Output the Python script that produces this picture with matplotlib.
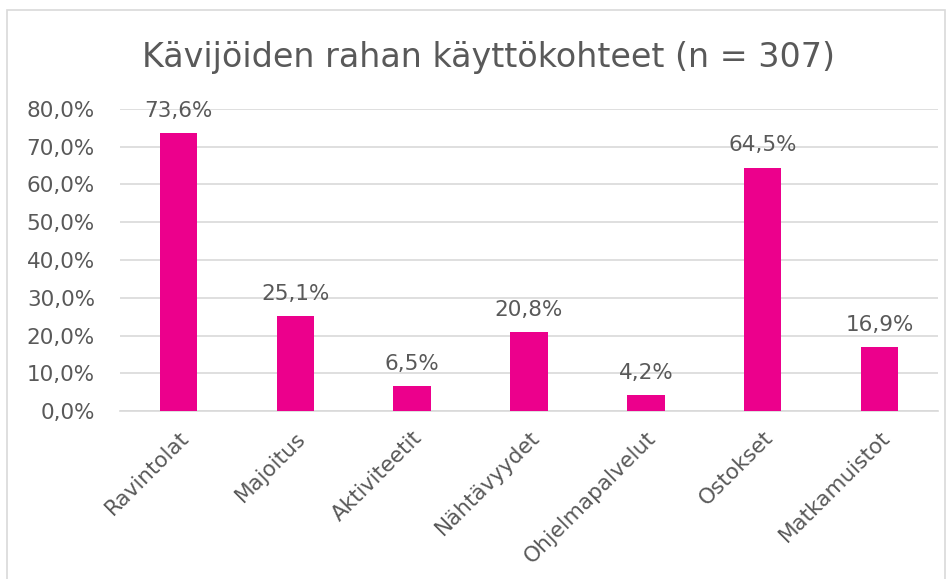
import matplotlib.pyplot as plt
from matplotlib.patches import Rectangle
from matplotlib.ticker import FuncFormatter

# Data
categories = ['Ravintolat', 'Majoitus', 'Aktiviteetit', 'Nähtävyydet',
              'Ohjelmapalvelut', 'Ostokset', 'Matkamuistot']
shares = [73.6, 25.1, 6.5, 20.8, 4.2, 64.5, 16.9]

text_color = '#595959'
grid_color = '#D9D9D9'
bar_color = '#EC008C'

fig = plt.figure(figsize=(9.53, 5.79), dpi=100)
ax = fig.add_axes([120 / 953, 1 - 411 / 579, 818 / 953, 302 / 579])

# light frame round the chart, like the spreadsheet export
fig.patches.append(Rectangle((7 / 953, -0.1), 938 / 953, 1.1 - 10 / 579,
                             transform=fig.transFigure, fill=False,
                             edgecolor=grid_color, linewidth=1.2))

index = range(len(categories))
bars = ax.bar(index, shares, width=0.32, color=bar_color, zorder=3)

for rect, val in zip(bars, shares):
    ax.text(rect.get_x() + rect.get_width() / 2, val + 3.3,
            f'{val:.1f}%'.replace('.', ','), ha='center', va='bottom',
            fontsize=15.5, color=text_color)

ax.set_xlim(-0.5, len(categories) - 0.5)
ax.set_ylim(0, 80)
ax.set_yticks(range(0, 81, 10))
ax.yaxis.set_major_formatter(FuncFormatter(lambda v, p: f'{v:.1f}%'.replace('.', ',')))
ax.grid(axis='y', color=grid_color, linewidth=1.2, zorder=0)

ax.set_xticks(list(index))
ax.set_xticklabels(categories, rotation=45, ha='right', rotation_mode='anchor')
ax.tick_params(axis='both', length=0, labelsize=15.5, labelcolor=text_color)
ax.tick_params(axis='y', pad=18)
ax.tick_params(axis='x', pad=12)

for side in ['top', 'right', 'left']:
    ax.spines[side].set_visible(False)
ax.spines['bottom'].set_color(grid_color)
ax.spines['bottom'].set_linewidth(1.2)

fig.text(489 / 953, 1 - 57 / 579, 'Kävijöiden rahan käyttökohteet (n = 307)',
         ha='center', va='center', fontsize=24, color=text_color)

fig.savefig('out.png', dpi=100)
plt.close(fig)
